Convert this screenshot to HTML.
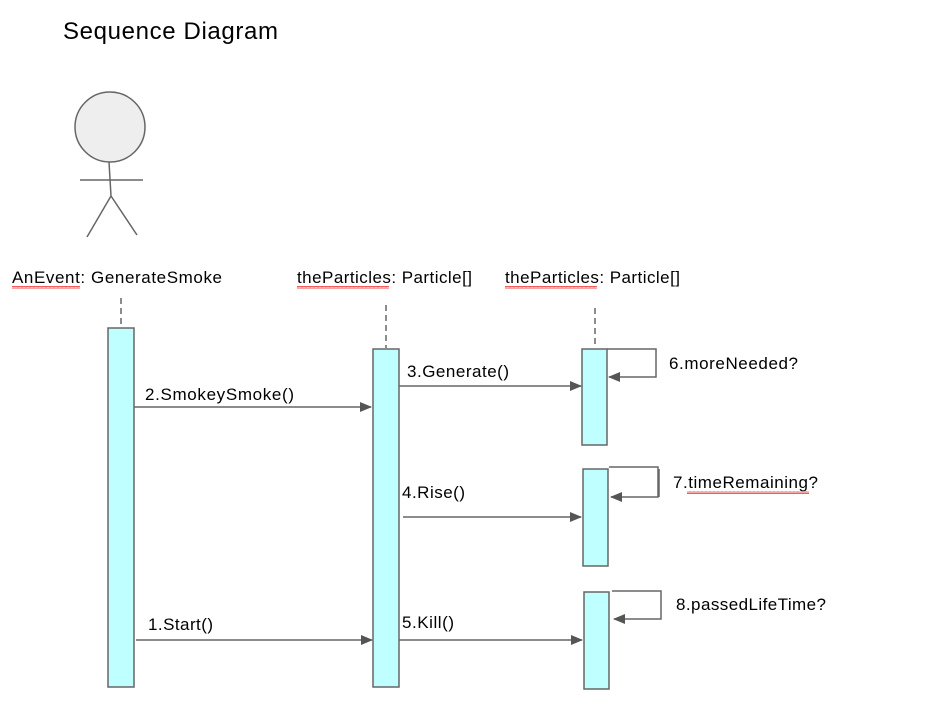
<!DOCTYPE html>
<html><head><meta charset="utf-8"><style>
html,body{margin:0;padding:0;background:#fff;}
svg{display:block;}
text{font-family:"Liberation Sans",Arial,sans-serif;fill:#000;}
</style></head><body>
<svg width="939" height="724" viewBox="0 0 939 724" xmlns="http://www.w3.org/2000/svg">
<defs>
<marker id="ah" markerWidth="12" markerHeight="10" refX="11" refY="5" orient="auto" markerUnits="userSpaceOnUse">
<path d="M0,0 L12,5 L0,10 Z" fill="#555"/>
</marker>
<pattern id="wv" width="4" height="3" patternUnits="userSpaceOnUse">
<path d="M0,2.5 L1,0.5 L2,2.5 L3,0.5 L4,2.5" stroke="#e33" stroke-width="0.8" fill="none"/>
</pattern>
</defs>
<text x="63" y="39" font-size="24" textLength="215">Sequence Diagram</text>

<circle cx="110" cy="127" r="35" fill="#eee" stroke="#666" stroke-width="1.5"/>
<path d="M80,180 H143 M109,162 L111,196 L87,237 M111,196 L137,235" stroke="#666" stroke-width="1.5" fill="none"/>

<text x="12" y="283" font-size="17" textLength="210">AnEvent: GenerateSmoke</text>
<rect x="12" y="286" width="68" height="3" fill="url(#wv)"/>
<text x="297" y="283" font-size="17" textLength="175">theParticles: Particle[]</text>
<rect x="297" y="286" width="92" height="3" fill="url(#wv)"/>
<text x="505" y="283" font-size="17" textLength="175">theParticles: Particle[]</text>
<rect x="505" y="286" width="92" height="3" fill="url(#wv)"/>

<g stroke="#666" stroke-width="1.5" stroke-dasharray="6,4">
<line x1="121" y1="298" x2="121" y2="327"/>
<line x1="386" y1="305" x2="386" y2="348"/>
<line x1="595" y1="308" x2="595" y2="348"/>
</g>

<g fill="#c0ffff" stroke="#666" stroke-width="1.5">
<rect x="108" y="328" width="26" height="359"/>
<rect x="373" y="349" width="26" height="338"/>
<rect x="582" y="349" width="25" height="96"/>
<rect x="583" y="469" width="25" height="97"/>
<rect x="584" y="592" width="25" height="97"/>
</g>

<g stroke="#666" stroke-width="1.5" fill="none" marker-end="url(#ah)">
<line x1="134" y1="407" x2="371" y2="407"/>
<line x1="399" y1="386" x2="581" y2="386"/>
<line x1="403" y1="517" x2="581" y2="517"/>
<line x1="136" y1="640" x2="372" y2="640"/>
<line x1="399" y1="640" x2="582" y2="640"/>
<polyline points="607,349 656,349 656,377 609,377"/>
<polyline points="609,467 658,467 658,497 611,497"/>
<polyline points="612,591 661,591 661,619 614,619"/>
</g>
<line x1="659" y1="469" x2="659" y2="497" stroke="#666" stroke-width="1.5"/>

<text x="145" y="400" font-size="17" textLength="149">2.SmokeySmoke()</text>
<text x="407" y="377" font-size="17" textLength="102">3.Generate()</text>
<text x="402" y="498" font-size="17" textLength="63">4.Rise()</text>
<text x="148" y="630" font-size="17" textLength="65">1.Start()</text>
<text x="402" y="628" font-size="17" textLength="52">5.Kill()</text>
<text x="669" y="369" font-size="17" textLength="129">6.moreNeeded?</text>
<text x="673" y="488" font-size="17" textLength="145">7.timeRemaining?</text>
<rect x="687" y="491" width="122" height="3" fill="url(#wv)"/>
<text x="676" y="610" font-size="17" textLength="150">8.passedLifeTime?</text>
</svg>
</body></html>
